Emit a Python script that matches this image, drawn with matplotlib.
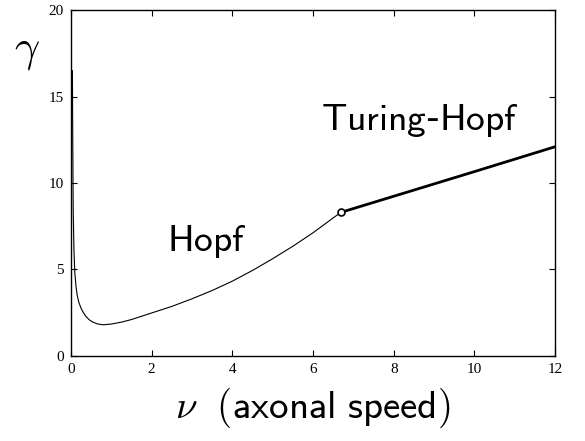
#!/usr/bin/env python3
"""
Hopf / Turing-Hopf boundary curve: gamma vs axonal speed
"""
import matplotlib
matplotlib.use("Agg")
import matplotlib.pyplot as plt

# Hopf branch (thin line)
hopf_v = [0.04, 0.05, 0.06, 0.08, 0.10, 0.13, 0.16, 0.20, 0.25, 0.30, 0.37,
          0.45, 0.55, 0.66, 0.80, 1.00, 1.25, 1.50, 1.75, 2.00, 2.50, 3.00,
          3.50, 4.00, 4.50, 5.00, 5.50, 6.00, 6.50, 6.69]
hopf_g = [16.5, 12.0, 8.4, 6.0, 4.8, 4.0, 3.5, 3.1, 2.78, 2.55, 2.30,
          2.10, 1.95, 1.85, 1.80, 1.84, 1.95, 2.10, 2.29, 2.48, 2.86, 3.30,
          3.78, 4.32, 4.94, 5.62, 6.34, 7.12, 7.98, 8.30]

# Turing-Hopf branch (thick line)
th_v = [6.69, 10.0, 12.0]
th_g = [8.30, 10.66, 12.1]

# codimension-two point
cod2_v = [6.69]
cod2_g = [8.30]

x_ticks = [0, 2, 4, 6, 8, 10, 12]
y_ticks = [0, 5, 10, 15, 20]

plt.rcParams['mathtext.fontset'] = 'cm'

fig = plt.figure(figsize=(5.85, 4.41), dpi=100)
ax = fig.add_axes([0.121, 0.193, 0.828, 0.784])

ax.plot(hopf_v, hopf_g, color='black', lw=0.8)
ax.plot(th_v, th_g, color='black', lw=2.0)
ax.plot(cod2_v, cod2_g, 'o', ms=5, mfc='white', mec='black', mew=1.2, zorder=5)

ax.set_xlim(0, 12)
ax.set_ylim(0, 20)
ax.set_xticks(x_ticks)
ax.set_yticks(y_ticks)
ax.tick_params(direction='in', length=4, width=0.8, top=True, right=True,
               pad=5, labelsize=11)
for lab in ax.get_xticklabels() + ax.get_yticklabels():
    lab.set_family('Liberation Serif')
for s in ax.spines.values():
    s.set_linewidth(1.0)

ax.text(3.37, 6.6, r'$\mathsf{Hopf}$', fontsize=27, ha='center', va='center')
ax.text(8.65, 13.6, r'$\mathsf{Turing}$-$\mathsf{Hopf}$', fontsize=27,
        ha='center', va='center')

ax.set_xlabel(r'$\nu\ \ \mathsf{(axonal\ speed)}$', fontsize=28, labelpad=7)
fig.text(0.046, 0.885, r'$\gamma$', fontsize=32, ha='center', va='center')

plt.savefig('out.png', dpi=100)
plt.close()
